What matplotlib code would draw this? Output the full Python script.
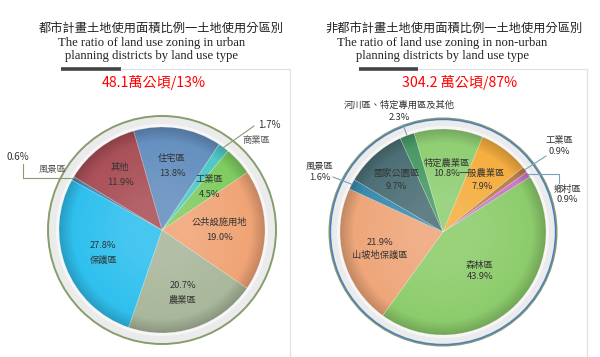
import numpy as np
import matplotlib
matplotlib.use("Agg")
import matplotlib.pyplot as plt
from matplotlib.patches import Circle
from matplotlib.colors import to_rgb

plt.rcParams['font.family'] = ['Noto Sans CJK TC', 'DejaVu Sans']

W, H = 600, 357

# ---------------- data ----------------
urban_labels = ['住宅區', '商業區', '工業區', '公共設施用地', '農業區', '保護區', '風景區', '其他']
urban_values = [13.8, 1.7, 4.5, 19.0, 20.7, 27.8, 0.6, 11.9]
urban_colors = ['#6590bf', '#4fc8c8', '#80cc62', '#f0a476', '#a9b79b', '#30c0ee', '#4a88b0', '#aa5058']

rural_labels = ['森林區', '山坡地保護區', '風景區', '國家公園區', '河川區、特定專用區及其他',
                '特定農業區', '一般農業區', '工業區', '鄉村區']
rural_values = [43.9, 21.9, 1.6, 9.7, 2.3, 10.8, 7.9, 0.9, 0.9]
rural_colors = ['#8dcc6c', '#eea67a', '#3a8caf', '#4d7076', '#4a9a68',
                '#90cf74', '#f5ae40', '#b8804a', '#c87ac8']

urban_title = '都市計畫土地使用面積比例一土地使用分區別'
urban_en = ['The ratio of land use zoning in urban', 'planning districts by land use type']
urban_total = '48.1萬公頃/13%'
rural_title = '非都市計畫土地使用面積比例一土地使用分區別'
rural_en = ['The ratio of land use zoning in non-urban', 'planning districts by land use type']
rural_total = '304.2 萬公頃/87%'

fig = plt.figure(figsize=(6, 3.57), dpi=100)
ax = fig.add_axes([0, 0, 1, 1])


def Y(p):
    return H - p


def mix(c, other, t):
    a = np.array(to_rgb(c)); b = np.array(to_rgb(other))
    return tuple(a * (1 - t) + b * t)


def shaded_pie(values, colors, cx, cy, r, start):
    layers = []
    n_rim = 10
    for k in range(n_rim):
        f = 1 - 0.013 * k
        t = 1 - k / n_rim
        layers.append((f, [mix(c, 'black', 0.18 * t) for c in colors]))
    n_in = 12
    for k in range(n_in):
        f = 0.87 - 0.05 * k
        t = k / n_in
        layers.append((f, [mix(c, 'white', 0.12 * t) for c in colors]))
    wedges = None
    for f, cols in layers:
        w, _ = ax.pie(values, colors=cols, radius=r * f, center=(cx, Y(cy)),
                      startangle=start, counterclock=False,
                      wedgeprops=dict(linewidth=0))
        if wedges is None:
            wedges = w
    ax.pie(values, colors=['none'] * len(values), radius=r, center=(cx, Y(cy)),
           startangle=start, counterclock=False,
           wedgeprops=dict(linewidth=0.4, edgecolor=(1, 1, 1, 0.35), fill=False))
    return wedges


def mid(w):
    return np.deg2rad((w.theta1 + w.theta2) / 2)


TXT = '#333333'
LFS = 6.7

# ---------------- left (urban) ----------------
cxL, cyL, rL = 162, 230, 103
ax.add_patch(Circle((cxL, Y(cyL)), 114, facecolor='#ebebeb', edgecolor='#869e6e', lw=1.4, zorder=0))
ax.add_patch(Circle((cxL, Y(cyL)), 106, facecolor='#f6f6f6', edgecolor='none', zorder=0))
wL = shaded_pie(urban_values, urban_colors, cxL, cyL, rL, 106)

inside_L = {0: (0.63, 'np'), 2: (0.62, 'np'), 3: (0.56, 'np'),
            4: (0.64, 'pn'), 5: (0.61, 'pn'), 7: (0.67, 'np')}
for i, (rf, order) in inside_L.items():
    a = mid(wL[i])
    x = cxL + rL * rf * np.cos(a)
    y = Y(cyL) + rL * rf * np.sin(a)
    name, pct = urban_labels[i], f'{urban_values[i]:.1f}%'
    top, bot = (name, pct) if order == 'np' else (pct, name)
    ax.text(x, y + 7.5, top, ha='center', va='center', fontsize=LFS, color=TXT, zorder=5)
    ax.text(x, y - 7.5, bot, ha='center', va='center', fontsize=LFS, color=TXT, zorder=5)

lead_L = '#8a9c74'
a = mid(wL[1])
x0, y0 = cxL + rL * np.cos(a), Y(cyL) + rL * np.sin(a)
ax.plot([x0, 254], [y0, Y(126)], color=lead_L, lw=0.8, zorder=4)
ax.text(258, Y(125), f'{urban_values[1]:.1f}%', ha='left', va='center', fontsize=LFS + 0.3, color=TXT)
ax.text(256, Y(141), urban_labels[1], ha='center', va='center', fontsize=LFS, color='#555555')
a = mid(wL[6])
x0, y0 = cxL + rL * np.cos(a), Y(cyL) + rL * np.sin(a)
ax.plot([x0, 23, 23], [y0, y0, Y(164)], color=lead_L, lw=0.8, zorder=4)
ax.text(18, Y(157), f'{urban_values[6]:.1f}%', ha='center', va='center', fontsize=LFS + 0.3, color=TXT)
ax.text(53, Y(169), urban_labels[6], ha='center', va='center', fontsize=LFS, color='#555555')

# ---------------- right (non-urban) ----------------
cxR, cyR, rR = 443, 232, 103
ax.add_patch(Circle((cxR, Y(cyR)), 114.5, facecolor='#8a9a6a', edgecolor='none', zorder=0))
ax.add_patch(Circle((cxR, Y(cyR)), 113.3, facecolor='#4a80c0', edgecolor='none', zorder=0))
ax.add_patch(Circle((cxR, Y(cyR)), 111.8, facecolor='#ebebeb', edgecolor='none', zorder=0))
ax.add_patch(Circle((cxR, Y(cyR)), 106, facecolor='#f6f6f6', edgecolor='none', zorder=0))
wR = shaded_pie(rural_values, rural_colors, cxR, cyR, rR, 32.4)

inside_R = {0: (0.52, 'np', 5.5), 1: (0.63, 'pn', 6.5), 3: (0.68, 'np', 6.5),
            5: (0.62, 'np', 5.5), 6: (0.63, 'np', 6.5)}
for i, (rf, order, dy) in inside_R.items():
    a = mid(wR[i])
    x = cxR + rR * rf * np.cos(a)
    y = Y(cyR) + rR * rf * np.sin(a)
    name, pct = rural_labels[i], f'{rural_values[i]:.1f}%'
    top, bot = (name, pct) if order == 'np' else (pct, name)
    ax.text(x, y + dy, top, ha='center', va='center', fontsize=LFS, color=TXT, zorder=5)
    ax.text(x, y - dy, bot, ha='center', va='center', fontsize=LFS, color=TXT, zorder=5)

lead_R = '#7aa0c0'
a = mid(wR[4])
x0, y0 = cxR + rR * np.cos(a), Y(cyR) + rR * np.sin(a)
ax.plot([x0, 403], [y0, Y(125)], color=lead_R, lw=0.8, zorder=4)
ax.text(399, Y(105), rural_labels[4], ha='center', va='center', fontsize=LFS, color=TXT)
ax.text(399, Y(117), f'{rural_values[4]:.1f}%', ha='center', va='center', fontsize=LFS, color=TXT)
a = mid(wR[2])
x0, y0 = cxR + rR * np.cos(a), Y(cyR) + rR * np.sin(a)
ax.plot([x0, 333], [y0, Y(177)], color=lead_R, lw=0.8, zorder=4)
ax.text(320, Y(166), rural_labels[2], ha='center', va='center', fontsize=LFS, color=TXT)
ax.text(320, Y(178), f'{rural_values[2]:.1f}%', ha='center', va='center', fontsize=LFS, color=TXT)
a = mid(wR[7])
x0, y0 = cxR + rR * np.cos(a), Y(cyR) + rR * np.sin(a)
ax.plot([x0, 546], [y0, Y(156)], color=lead_R, lw=0.8, zorder=4)
ax.text(559, Y(141), rural_labels[7], ha='center', va='center', fontsize=LFS, color=TXT)
ax.text(559, Y(152), f'{rural_values[7]:.1f}%', ha='center', va='center', fontsize=LFS, color=TXT)
a = mid(wR[8])
x0, y0 = cxR + rR * np.cos(a), Y(cyR) + rR * np.sin(a)
ax.plot([x0, 559, 559], [y0, y0, Y(183)], color=lead_R, lw=0.8, zorder=4)
ax.text(567, Y(189), rural_labels[8], ha='center', va='center', fontsize=LFS, color=TXT)
ax.text(567, Y(199), f'{rural_values[8]:.1f}%', ha='center', va='center', fontsize=LFS, color=TXT)

# ---------------- titles ----------------
serif = ['Liberation Serif', 'DejaVu Serif']
for cx_t, cx_e, cx_r, title, en, total in [
        (161, 151.5, 153.5, urban_title, urban_en, urban_total),
        (454, 442, 460, rural_title, rural_en, rural_total)]:
    ax.text(cx_t, Y(28.5), title, ha='center', va='center', fontsize=8.8, color='#222222')
    ax.text(cx_e, Y(43), en[0], ha='center', va='center', fontsize=9.1, color='#222222', family=serif)
    ax.text(cx_e, Y(55.5), en[1], ha='center', va='center', fontsize=9.1, color='#222222', family=serif)
    ax.text(cx_r, Y(82), total, ha='center', va='center', fontsize=10.2, color='#ff0000')

ax.plot([61, 121], [Y(68.5), Y(68.5)], color='#444444', lw=2.6, solid_capstyle='butt')
ax.plot([121, 290, 290], [Y(69), Y(69), 0], color='#e2e2e2', lw=0.9)
ax.plot([359, 418], [Y(68.5), Y(68.5)], color='#444444', lw=2.6, solid_capstyle='butt')
ax.plot([418, 587, 587], [Y(69), Y(69), 0], color='#e2e2e2', lw=0.9)

ax.set_xlim(0, W)
ax.set_ylim(0, H)
ax.set_aspect('equal', adjustable='box')
ax.axis('off')
fig.savefig('out.png', dpi=100, facecolor='white')
